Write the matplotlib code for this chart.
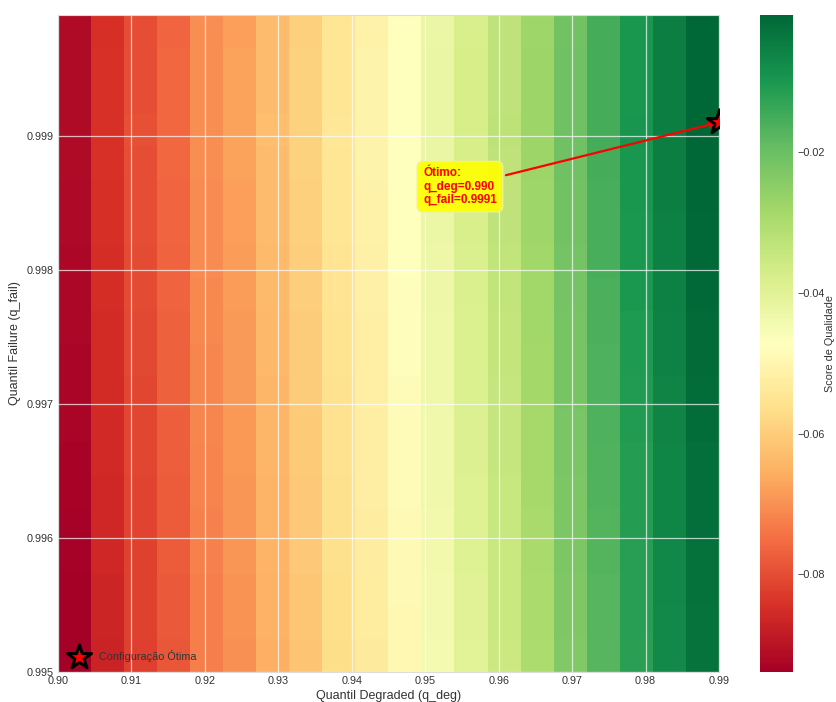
import numpy as np
import matplotlib
matplotlib.use("Agg")
import matplotlib.pyplot as plt
from matplotlib.ticker import FormatStrFormatter, MultipleLocator

plt.rcParams['font.family'] = ['Liberation Sans', 'DejaVu Sans']

# Grid of thresholds that were evaluated
q_deg = np.linspace(0.90, 0.99, 20)
q_fail = np.linspace(0.995, 0.9999, 20)

# Quality score per q_deg column (at lowest q_fail)
col_score = [-0.0939, -0.0867, -0.0820, -0.0783, -0.0727, -0.0699, -0.0652,
             -0.0615, -0.0568, -0.0531, -0.0493, -0.0447, -0.0400, -0.0353,
             -0.0297, -0.0232, -0.0176, -0.0120, -0.0073, -0.0029]
# Score gain per q_fail row
row_gain = [0.0000, 0.0002, 0.0003, 0.0005, 0.0006, 0.0008, 0.0009, 0.0011,
            0.0012, 0.0014, 0.0015, 0.0017, 0.0018, 0.0020, 0.0021, 0.0023,
            0.0024, 0.0023, 0.0023, 0.0022]

best_deg = 0.990
best_fail = 0.9991

scores = np.array(row_gain)[:, None] + np.array(col_score)[None, :]

fig = plt.figure(figsize=(8.37, 7.02), dpi=100)
ax = fig.add_axes([58/837, 30/702, 661/837, 657/702])
cax = fig.add_axes([760/837, 30/702, 33/837, 657/702])

im = ax.imshow(scores, extent=[q_deg[0], q_deg[-1], q_fail[0], q_fail[-1]],
               origin='lower', aspect='auto', cmap='RdYlGn',
               interpolation='nearest', zorder=0)

ax.set_xlim(q_deg[0], q_deg[-1])
ax.set_ylim(q_fail[0], q_fail[-1])
ax.xaxis.set_major_locator(MultipleLocator(0.01))
ax.yaxis.set_major_locator(MultipleLocator(0.001))
ax.xaxis.set_major_formatter(FormatStrFormatter('%.2f'))
ax.yaxis.set_major_formatter(FormatStrFormatter('%.3f'))
ax.grid(True, color='white', alpha=0.7, linewidth=0.9, zorder=0.5)
ax.tick_params(length=0, labelsize=7.8, labelcolor='#333333', pad=3)
for s in ax.spines.values():
    s.set_color('#dddddd')
    s.set_linewidth(0.8)

ax.set_xlabel('Quantil Degraded (q_deg)', fontsize=9, color='#333333', labelpad=3)
ax.set_ylabel('Quantil Failure (q_fail)', fontsize=9, color='#333333', labelpad=4)

ax.scatter([best_deg], [best_fail], marker='*', s=330, c='red',
           edgecolors='black', linewidths=2.2, zorder=5,
           label='Configuração Ótima')

ax.annotate(f'Ótimo:\nq_deg={best_deg:.3f}\nq_fail={best_fail:.4f}',
            xy=(best_deg, best_fail), xytext=(0.9497, 0.99862),
            ha='left', va='center', fontsize=8.5, fontweight='bold', color='red',
            linespacing=1.15,
            bbox=dict(boxstyle='round,pad=0.5', facecolor='yellow',
                      edgecolor='#f0f0a0', alpha=0.9),
            arrowprops=dict(arrowstyle='->', color='red', lw=1.6),
            zorder=4)

leg = ax.legend(loc='lower left', frameon=False, fontsize=7.8,
                handletextpad=0.9, borderaxespad=0.5)
for t in leg.get_texts():
    t.set_color('#333333')

cb = fig.colorbar(im, cax=cax)
cb.outline.set_visible(False)
cb.ax.tick_params(length=0, labelsize=7.8, labelcolor='#333333', pad=3)
cb.set_label('Score de Qualidade', fontsize=7.8, color='#333333', labelpad=0)
cb.ax.yaxis.set_major_locator(MultipleLocator(0.02))

fig.savefig('out.png', dpi=100)
